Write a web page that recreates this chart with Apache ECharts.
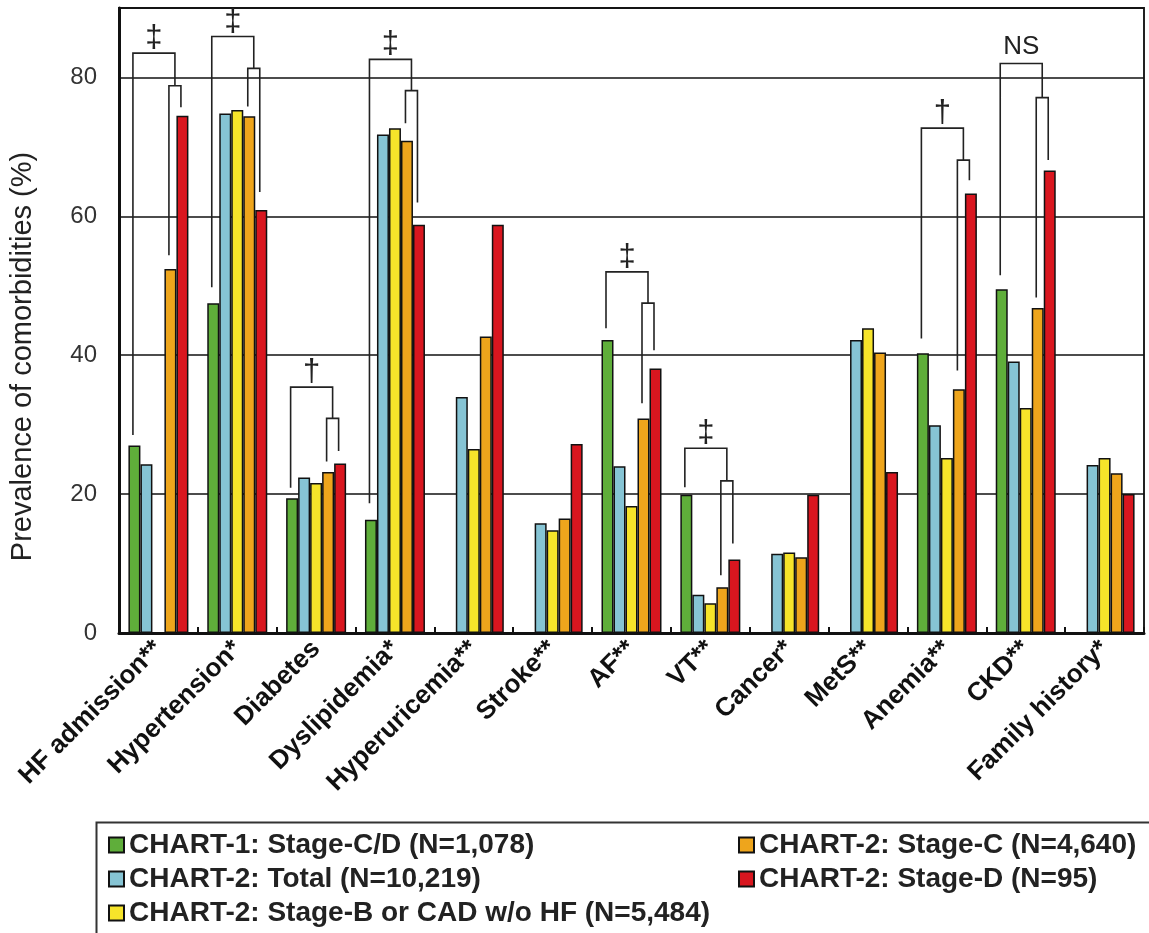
<!DOCTYPE html>
<html>
<head>
<meta charset="utf-8">
<script src="https://cdn.jsdelivr.net/npm/echarts@6/dist/echarts.min.js"></script>
<style>
  html, body { margin: 0; padding: 0; background: #fff; }
  #chart { width: 1149px; height: 933px; }
</style>
</head>
<body>
<div id="chart"></div>
<script>
// ---- data ----
var categories = ['HF admission**', 'Hypertension*', 'Diabetes', 'Dyslipidemia*', 'Hyperuricemia**', 'Stroke**', 'AF**', 'VT**', 'Cancer*', 'MetS**', 'Anemia**', 'CKD**', 'Family history*'];
var seriesNames = ['CHART-1: Stage-C/D (N=1,078)', 'CHART-2: Total (N=10,219)', 'CHART-2: Stage-B or CAD w/o HF (N=5,484)', 'CHART-2: Stage-C (N=4,640)', 'CHART-2: Stage-D (N=95)'];
var chart1StageCD = [27.0, 47.5, 19.4, 16.3, null, null, 42.2, 19.9, null, null, 40.3, 49.5, null];
var chart2Total   = [24.3, 74.8, 22.4, 71.8, 34.0, 15.8, 24.0, 5.5, 11.4, 42.2, 29.9, 39.1, 24.2];
var chart2StageB  = [null, 75.3, 21.6, 72.7, 26.5, 14.8, 18.3, 4.3, 11.6, 43.9, 25.2, 32.4, 25.2];
var chart2StageC  = [52.4, 74.4, 23.2, 70.9, 42.7, 16.5, 30.9, 6.6, 10.9, 40.4, 35.1, 46.8, 23.0];
var chart2StageD  = [74.5, 60.9, 24.4, 58.8, 58.8, 27.2, 38.1, 10.6, 19.9, 23.2, 63.3, 66.6, 20.0];
var yTicks = [0, 20, 40, 60, 80];

// significance brackets: [category index, outer bracket level, inner bracket level,
//   left leg end (over Stage-C/D), inner left leg end (over Stage-C), inner right leg end (over Stage-D)]
var brackets = [
  [0, 83.5, 78.8, 28.5, 54.4, 75.7],
  [1, 85.9, 81.3, 49.8, 75.8, 63.5],
  [2, 35.4, 30.9, 20.9, 24.7, 26.2],
  [3, 82.6, 78.1, 18.7, 73.4, 62.0],
  [6, 52.0, 47.5, 43.9, 33.1, 40.7],
  [7, 26.6, 21.9, 21.0, 8.3, 12.9],
  [10, 72.7, 68.1, 42.4, 37.8, 65.2],
  [11, 82.0, 77.1, 51.5, 48.3, 68.1]
];
var bracketSymbols = ['\u2021', '\u2021', '\u2020', '\u2021', '\u2021', '\u2021', '\u2020', 'NS'];

// ---- styles ----
var colors = ['#5fae3a', '#86c4d4', '#f6e42a', '#eea51c', '#d9161f'];
var FONT = "'Liberation Sans', Arial, Helvetica, sans-serif";
var BAR_W = 12;

var chart = echarts.init(document.getElementById('chart'), null, { renderer: 'canvas' });

var dataSets = [chart1StageCD, chart2Total, chart2StageB, chart2StageC, chart2StageD];
var barSeries = dataSets.map(function (d, i) {
  return {
    name: seriesNames[i],
    type: 'bar',
    data: d,
    barWidth: BAR_W,
    barGap: '0%',
    itemStyle: { color: colors[i], borderColor: '#111', borderWidth: 1.5 },
    emphasis: { disabled: true },
    z: 2
  };
});

var bracketSeries = {
  type: 'custom',
  coordinateSystem: 'cartesian2d',
  silent: true,
  z: 5,
  encode: { x: 0, y: 1 },
  data: brackets,
  renderItem: function (params, api) {
    var cat = api.value(0);
    var cx = api.coord([cat, 0])[0];
    var yO = api.coord([cat, api.value(1)])[1];
    var yI = api.coord([cat, api.value(2)])[1];
    var yG = api.coord([cat, api.value(3)])[1];
    var yC = api.coord([cat, api.value(4)])[1];
    var yD = api.coord([cat, api.value(5)])[1];
    var gX = cx - 2 * BAR_W - 1.5;
    var oX = cx + BAR_W - 1.5;
    var rX = cx + 2 * BAR_W - 1.5;
    var mX = (oX + rX) / 2;
    var ls = { stroke: '#222', lineWidth: 1.6, fill: null };
    var sym = bracketSymbols[params.dataIndex];
    var isNS = sym === 'NS';
    return {
      type: 'group',
      children: [
        { type: 'polyline', shape: { points: [[gX, yG], [gX, yO], [mX, yO], [mX, yI]] }, style: ls },
        { type: 'polyline', shape: { points: [[oX, yC], [oX, yI], [rX, yI], [rX, yD]] }, style: ls },
        {
          type: 'text',
          style: {
            x: (gX + mX) / 2, y: isNS ? yO - 4 : yO + 1,
            text: sym,
            align: 'center', verticalAlign: 'bottom',
            fontSize: isNS ? 26 : 31, fontFamily: FONT, fill: '#222'
          }
        }
      ]
    };
  }
};

var legendText = { fontSize: 28, fontWeight: 'bold', color: '#222', fontFamily: FONT, lineHeight: 28 };

var option = {
  backgroundColor: '#fff',
  animation: false,
  grid: { left: 119, right: 5, top: 8, bottom: 300, show: true, borderColor: '#222', borderWidth: 2, containLabel: false },
  xAxis: {
    type: 'category',
    data: categories,
    axisLine: { lineStyle: { color: '#111', width: 3 } },
    axisTick: { show: true, inside: true, length: 6, lineStyle: { color: '#111', width: 2 } },
    axisLabel: { rotate: 45, interval: 0, fontSize: 26, fontWeight: 'bold', color: '#111', margin: 12, fontFamily: FONT },
    splitLine: { show: false }
  },
  yAxis: {
    type: 'value',
    min: yTicks[0],
    max: 90,
    interval: 20,
    name: 'Prevalence of comorbidities (%)',
    nameLocation: 'middle',
    nameGap: 82,
    nameTextStyle: { fontSize: 29, color: '#222', fontFamily: FONT, padding: [0, 72, 0, 0] },
    axisLine: { show: true, lineStyle: { color: '#111', width: 3 } },
    axisTick: { show: false },
    axisLabel: { fontSize: 24, color: '#333', margin: 22, fontFamily: FONT, showMaxLabel: false },
    splitLine: { show: true, lineStyle: { color: '#111', width: 1.5 } }
  },
  legend: [
    {
      data: seriesNames.slice(0, 3),
      orient: 'vertical', left: 103, top: 826,
      icon: 'rect',
      itemWidth: 15, itemHeight: 15, itemGap: 6,
      selectedMode: false,
      textStyle: legendText
    },
    {
      data: seriesNames.slice(3, 5),
      orient: 'vertical', left: 733, top: 826,
      icon: 'rect',
      itemWidth: 15, itemHeight: 15, itemGap: 6,
      selectedMode: false,
      textStyle: legendText
    }
  ],
  graphic: [
    { type: 'rect', left: 94, top: 820, z: -1, shape: { width: 1100, height: 200 }, style: { fill: 'none', stroke: '#333', lineWidth: 2 } }
  ],
  series: barSeries.concat([bracketSeries])
};

chart.setOption(option);
</script>
</body>
</html>
